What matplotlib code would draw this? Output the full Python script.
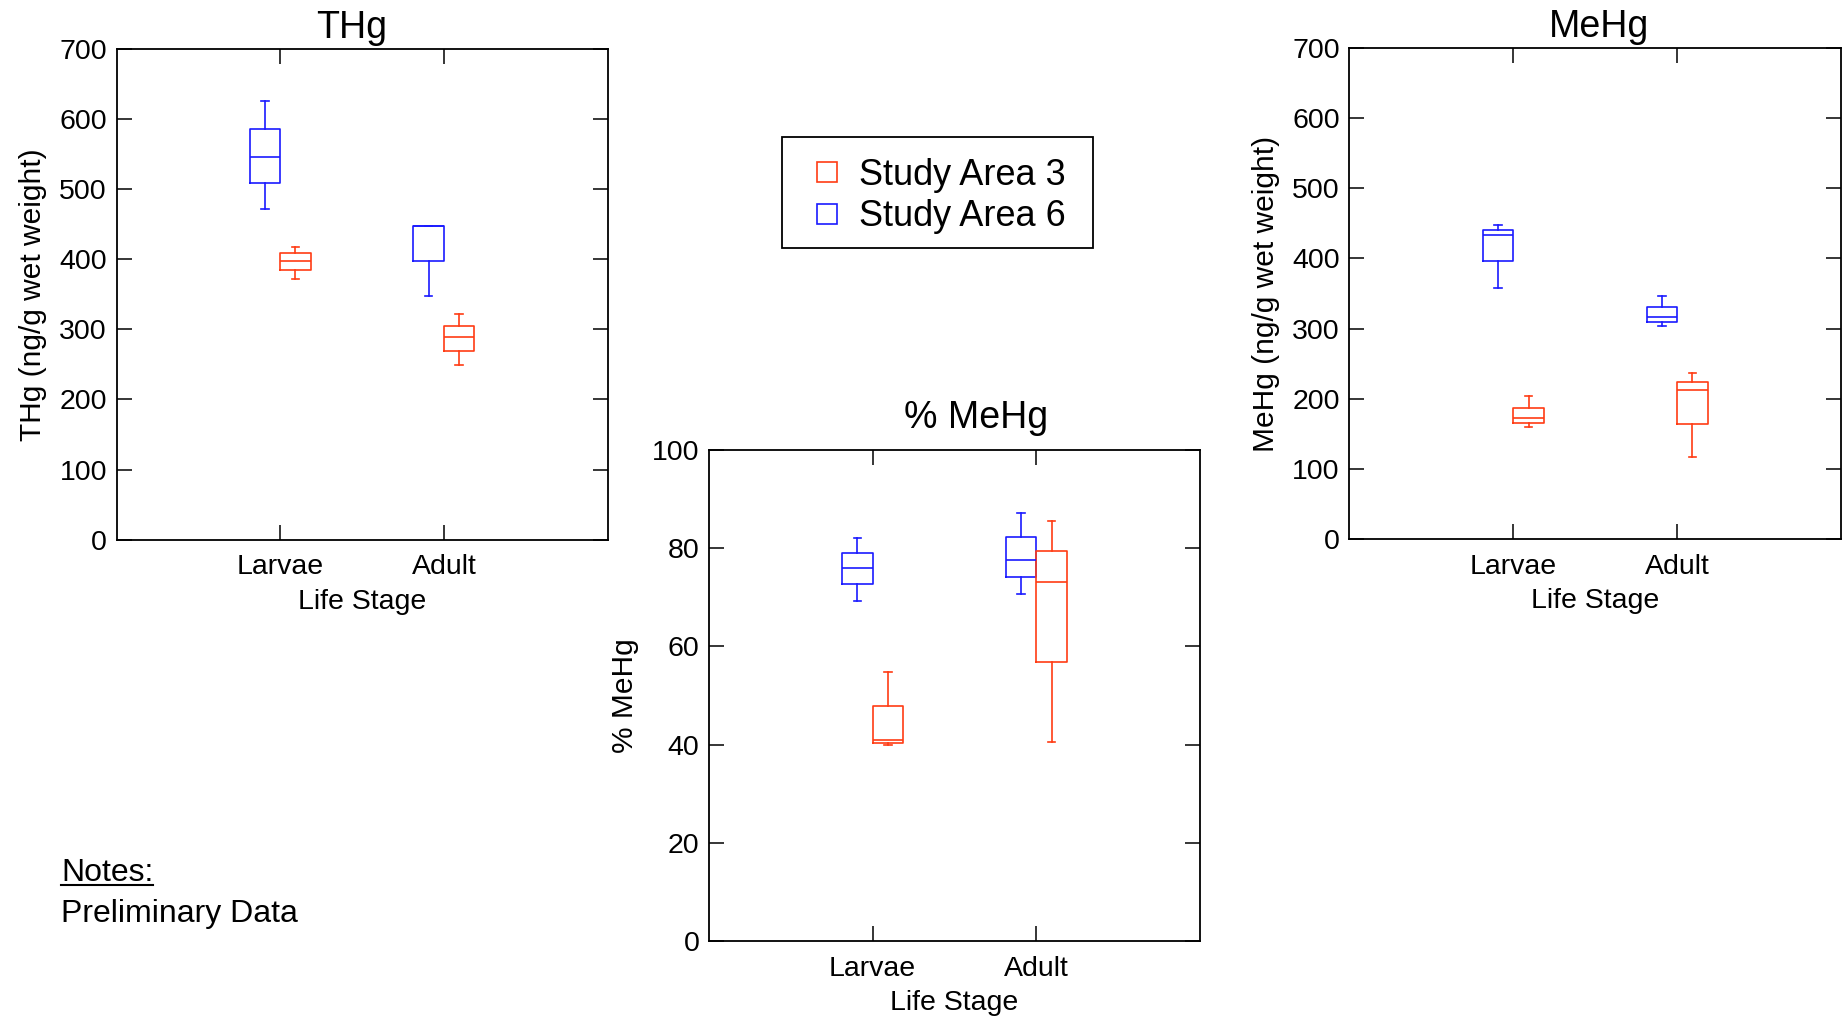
import matplotlib
matplotlib.use('Agg')
import matplotlib.pyplot as plt
from matplotlib.lines import Line2D
from matplotlib.patches import Rectangle

plt.rcParams['font.family'] = ['Liberation Sans', 'DejaVu Sans']

# categories and groups
stages = ['Larvae', 'Adult']
areas = ['Study Area 3', 'Study Area 6']
area_colors = {'Study Area 3': '#ff3c14', 'Study Area 6': '#1a1aff'}

# box stats per stage: [whislo, q1, med, q3, whishi]
thg_area3 = [[372, 385, 398, 409, 418], [249, 269, 289, 305, 322]]
thg_area6 = [[471, 508, 546, 586, 626], [348, 397, 447, 447, 447]]

pct_area3 = [[39.9, 40.4, 41.0, 47.8, 54.8], [40.5, 56.8, 73.2, 79.4, 85.6]]
pct_area6 = [[69.2, 72.7, 76.0, 79.1, 82.0], [70.6, 74.1, 77.5, 82.3, 87.1]]

mehg_area3 = [[159, 165, 172, 187, 204], [117, 164, 213, 224, 236]]
mehg_area6 = [[358, 396, 434, 441, 448], [303, 310, 316, 331, 347]]

W, H = 1845, 1019
fig = plt.figure(figsize=(W / 100, H / 100), dpi=100)


def to_stats(rows):
    out = []
    for r in rows:
        out.append(dict(whislo=r[0], q1=r[1], med=r[2], q3=r[3], whishi=r[4], fliers=[]))
    return out


def panel(rect, title, title_x, title_pad, ylabel, ymax, ystep, a3, a6):
    ax = fig.add_axes(rect)
    bw = 0.186
    pos = [i + 1 for i in range(len(stages))]
    for data, shift, area in [(a6, -bw / 2, 'Study Area 6'), (a3, bw / 2, 'Study Area 3')]:
        c = area_colors[area]
        lp = dict(color=c, linewidth=1.2)
        ax.bxp(to_stats(data), positions=[p + shift for p in pos], widths=bw,
               capwidths=0.045, showfliers=False, manage_ticks=False,
               boxprops=lp, whiskerprops=lp, capprops=lp, medianprops=lp)
    ax.set_xlim(0, 3)
    ax.set_ylim(0, ymax)
    ax.set_xticks(pos)
    ax.set_xticklabels(stages)
    ax.set_yticks(range(0, ymax + 1, ystep))
    ax.tick_params(direction='in', length=11, width=1.1, top=True, right=True,
                   labelsize=20.5, pad=7)
    ax.tick_params(axis='x', pad=10.5)
    for s in ax.spines.values():
        s.set_linewidth(1.3)
    ax.set_xlabel('Life Stage', fontsize=20.5, labelpad=6)
    ax.set_ylabel(ylabel, fontsize=21.5, labelpad=9)
    ax.set_title(title, fontsize=27, x=title_x, pad=title_pad)
    return ax


panel([116.6 / W, 1 - 539.7 / H, 491 / W, 491 / H], 'THg', 0.479, 8,
      'THg (ng/g wet weight)', 700, 100, thg_area3, thg_area6)
panel([709 / W, 1 - 941 / H, 491 / W, 491 / H], '% MeHg', 0.544, 15.5,
      '% MeHg', 100, 20, pct_area3, pct_area6)
panel([1349.4 / W, 1 - 539 / H, 491.6 / W, 491 / H], 'MeHg', 0.508, 8,
      'MeHg (ng/g wet weight)', 700, 100, mehg_area3, mehg_area6)

# legend box drawn separately so the padding matches
fig.add_artist(Rectangle((782 / W, 1 - 248 / H), 311 / W, 111 / H,
                         transform=fig.transFigure, fill=False,
                         edgecolor='black', linewidth=1.3))
handles = [Line2D([], [], linestyle='none', marker='s', markersize=14,
                  markerfacecolor='none', markeredgecolor=area_colors[a],
                  markeredgewidth=1.2) for a in areas]
fig.legend(handles, areas, loc='upper left',
           bbox_to_anchor=(782 / W, 1 - 142 / H), fontsize=26,
           frameon=False, handlelength=1.6, handletextpad=0.1, borderpad=0.44,
           labelspacing=0.18, borderaxespad=0)

notes = fig.text(61 / W, 1 - 881 / H, 'Notes:', fontsize=23, va='baseline')
fig.text(61 / W, 1 - 922 / H, 'Preliminary Data', fontsize=23, va='baseline')

fig.canvas.draw()
bb = notes.get_window_extent()
fig.add_artist(Line2D([bb.x0 / W, bb.x1 / W], [1 - 885 / H, 1 - 885 / H],
                      transform=fig.transFigure, color='black', linewidth=1.5))

fig.savefig('out.png', dpi=100)
